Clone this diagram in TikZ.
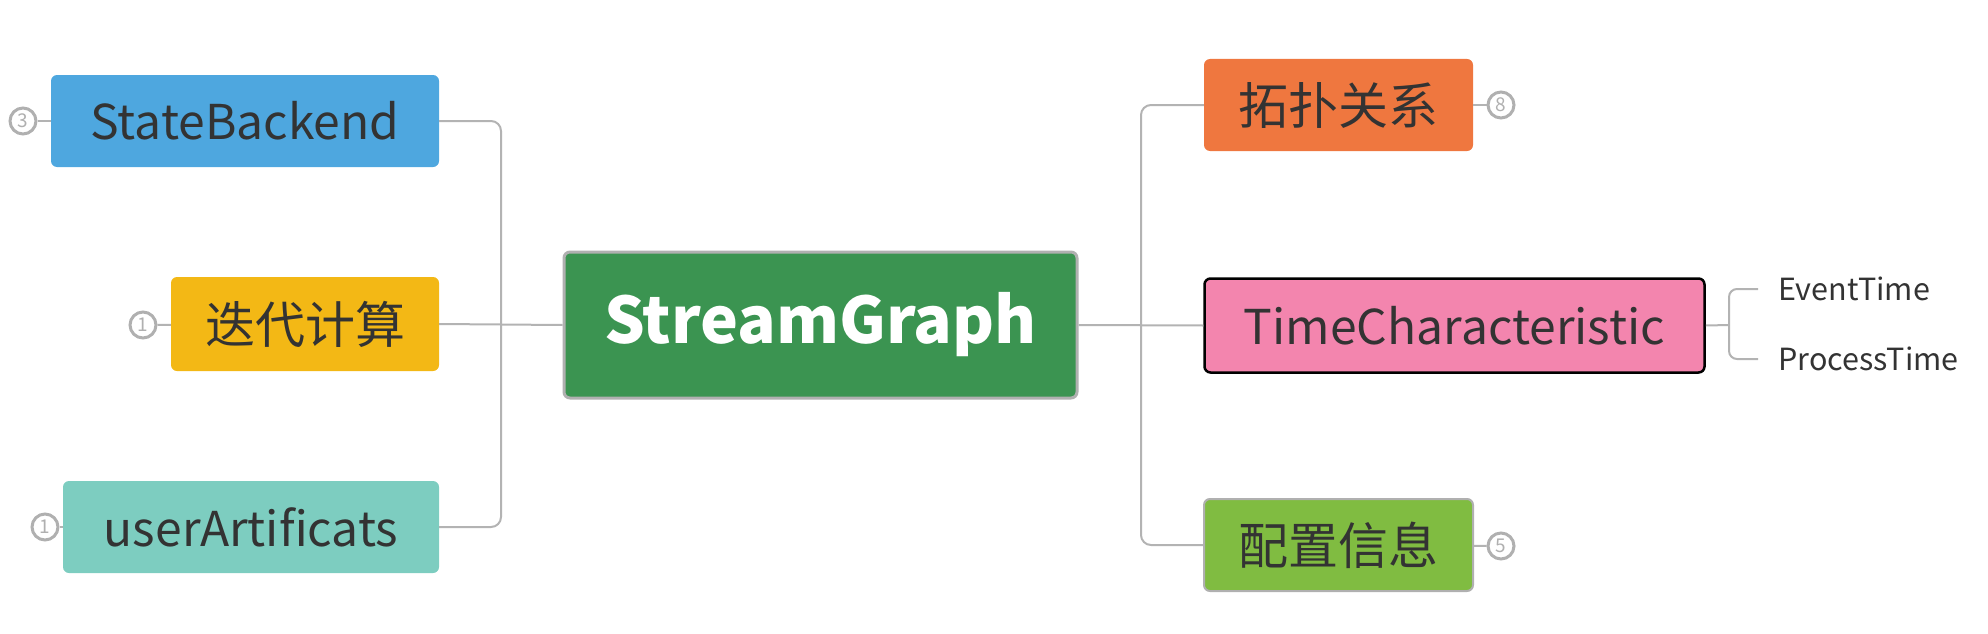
\documentclass[tikz,border=0pt]{standalone}
\usepackage{fontspec}
\setmainfont{Noto Sans CJK SC}
\usetikzlibrary{positioning}
\definecolor{txtgray}{HTML}{333333}
\definecolor{linegray}{HTML}{B3B3B3}
\definecolor{badgegray}{HTML}{B0B0B0}
\definecolor{sbblue}{HTML}{4EA7DF}
\definecolor{icyellow}{HTML}{F3B815}
\definecolor{uateal}{HTML}{7DCDC0}
\definecolor{sggreen}{HTML}{3B9451}
\definecolor{tporange}{HTML}{EF773F}
\definecolor{tcpink}{HTML}{F385AE}
\definecolor{pzgreen}{HTML}{80BC41}

\begin{document}
\begin{tikzpicture}[x=1pt, y=-1pt,
    topic/.style={rectangle, rounded corners=6pt, text=txtgray, inner sep=0pt,
        minimum height=92pt, font=\fontsize{50}{50}\selectfont},
    latin/.style={font=\fontsize{48}{48}\selectfont},
    link/.style={draw=linegray, line width=2pt},
    badge/.style={circle, draw=badgegray, line width=3pt, fill=white, minimum size=26pt,
        inner sep=0pt, text=badgegray, font=\fontsize{19}{19}\selectfont},
    leaf/.style={anchor=west, inner xsep=20pt, inner ysep=0pt, text=txtgray,
        font=\fontsize{30.5}{30.5}\selectfont}]
    \useasboundingbox (0,0) rectangle (1988,634);

    % central topic
    \node[topic, fill=sggreen, draw=badgegray, line width=3pt, minimum width=513pt,
        minimum height=146pt, text=white, font=\fontsize{64}{64}\selectfont\bfseries]
        (sg) at (820.5,325) {StreamGraph};

    % left side
    \node[topic, latin, fill=sbblue, minimum width=388pt] (sb) at (245,121) {StateBackend};
    \node[topic, fill=icyellow, minimum width=268pt, minimum height=94pt] (ic) at (305,324) {迭代计算};
    \node[topic, latin, fill=uateal, minimum width=376pt] (ua) at (251,527) {userArtificats};

    % right side
    \node[topic, fill=tporange, minimum width=269pt] (tp) at (1338.5,105) {拓扑关系};
    \node[topic, latin, fill=tcpink, draw=black, line width=2.5pt, minimum width=500pt,
        minimum height=94pt] (tc) at (1454.5,325.5) {TimeCharacteristic};
    \node[topic, fill=pzgreen, draw=badgegray, line width=2pt, minimum width=269pt] (pz) at (1338.5,545) {配置信息};

    % leaves of TimeCharacteristic
    \node[leaf] (et) at (1758,289) {EventTime};
    \node[leaf] (pt) at (1758,359) {ProcessTime};

    % count badges
    \node[badge] (b3) at (23,121) {3};
    \node[badge] (b1a) at (143,325) {1};
    \node[badge] (b1b) at (45,527) {1};
    \node[badge] (b8) at (1501,105) {8};
    \node[badge] (b5) at (1501,546) {5};

    % connectors
    \coordinate (lj) at (501,325);
    \coordinate (rj) at (1141,325);
    \coordinate (tj) at (1729,325);
    \draw[link, rounded corners=10pt] (sb.east) -| (lj) |- (ua.east);
    \draw[link] (ic.east) -- (sg.west);
    \draw[link, rounded corners=10pt] (tp.west) -| (rj) |- (pz.west);
    \draw[link] (sg.east) -- (tc.west);
    \draw[link] (tc.east) -- (tj);
    \draw[link, rounded corners=8pt] (et.west) -| (tj) |- (pt.west);

    \draw[link] (b3) -- (sb);
    \draw[link] (b1a) -- (ic);
    \draw[link] (b1b) -- (ua);
    \draw[link] (b8) -- (tp);
    \draw[link] (b5) -- (pz);
\end{tikzpicture}
\end{document}
